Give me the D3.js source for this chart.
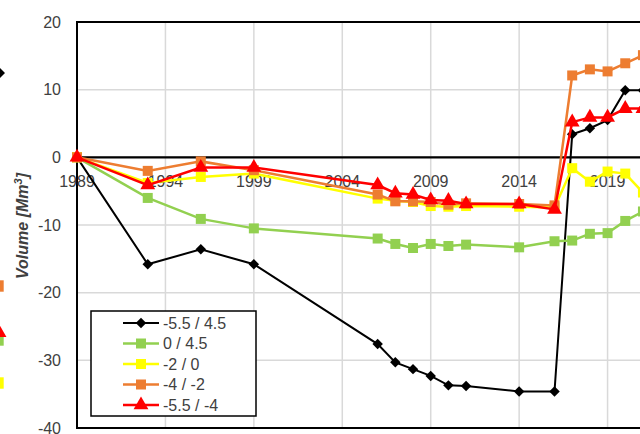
<!DOCTYPE html>
<html><head><meta charset="utf-8">
<script src="https://cdn.jsdelivr.net/npm/d3@7"></script>
<style>body{margin:0;background:#fff}svg{display:block}</style>
</head><body>
<script>
const years = [1989, 1993, 1996, 1999, 2006, 2007, 2008, 2009, 2010, 2011, 2014, 2016, 2017, 2018, 2019, 2020, 2021];
const seriesNames = ["-5.5 / 4.5", "0 / 4.5", "-2 / 0", "-4 / -2", "-5.5 / -4"];
const s1 = [0, -15.8, -13.6, -15.8, -27.6, -30.3, -31.3, -32.3, -33.7, -33.8, -34.6, -34.6, 3.4, 4.3, 5.5, 9.9, 9.9];
const s2 = [0, -6.0, -9.1, -10.5, -12.0, -12.8, -13.4, -12.8, -13.1, -12.9, -13.3, -12.4, -12.3, -11.3, -11.2, -9.4, -8.0];
const s3 = [0, -3.8, -2.9, -2.4, -6.1, -6.4, -6.6, -7.2, -7.3, -7.2, -7.3, -7.4, -1.6, -3.6, -2.1, -2.4, -5.2];
const s4 = [0, -2.0, -0.6, -1.9, -5.5, -6.5, -6.5, -6.6, -7.0, -6.8, -6.9, -7.1, 12.1, 13.0, 12.7, 13.9, 15.1];
const s5 = [0, -4.1, -1.5, -1.5, -4.1, -5.3, -5.5, -6.3, -6.4, -6.9, -6.9, -7.7, 5.2, 5.9, 5.9, 7.2, 7.2];
const yTicks = [20, 10, 0, -10, -20, -30, -40];
const xTicks = [1989, 1994, 1999, 2004, 2009, 2014, 2019];
const xGrid = [1994, 1999, 2004, 2009, 2014, 2019, 2024];
const yLabel = "Volume [Mm";

const colors = ["#000000", "#92d050", "#ffff00", "#ed7d31", "#ff0000"];
const symbols = [d3.symbolDiamond2, d3.symbolSquare, d3.symbolSquare, d3.symbolSquare, d3.symbolTriangle];
const symSizes = [70, 100, 100, 100, 95];
const lineW = [2, 2.5, 2.5, 2.5, 2.5];
const data = [s1, s2, s3, s4, s5];

const W = 640, H = 434;
const svg = d3.select("body").append("svg").attr("width", W).attr("height", H);
const font = "'Liberation Sans', Arial, sans-serif";

const x = d3.scaleLinear().domain([1989, 2024]).range([77, 696]);
const y = d3.scaleLinear().domain([-40, 20]).range([428, 22]);

// gridlines
svg.append("g").selectAll("line").data(xGrid).join("line")
  .attr("x1", d => x(d)).attr("x2", d => x(d)).attr("y1", y(20)).attr("y2", y(-40))
  .attr("stroke", "#d9d9d9").attr("stroke-width", 1.5);
svg.append("g").selectAll("line").data(yTicks).join("line")
  .attr("x1", x(1989)).attr("x2", x(2024)).attr("y1", d => y(d)).attr("y2", d => y(d))
  .attr("stroke", "#d9d9d9").attr("stroke-width", 1.5);

// border
svg.append("rect").attr("x", x(1989)).attr("y", y(20)).attr("width", x(2024) - x(1989)).attr("height", y(-40) - y(20))
  .attr("fill", "none").attr("stroke", "#000").attr("stroke-width", 2);
// zero line
svg.append("line").attr("x1", x(1989)).attr("x2", x(2024)).attr("y1", y(0)).attr("y2", y(0))
  .attr("stroke", "#000").attr("stroke-width", 2.2);

// y tick labels
svg.append("g").selectAll("text").data(yTicks).join("text")
  .attr("x", 61).attr("y", d => y(d) + 5.5).attr("text-anchor", "end")
  .attr("font-family", font).attr("font-size", 16).attr("fill", "#404040").text(d => d);
// x tick labels
svg.append("g").selectAll("text").data(xTicks).join("text")
  .attr("x", d => x(d)).attr("y", 187).attr("text-anchor", "middle")
  .attr("font-family", font).attr("font-size", 16).attr("fill", "#404040").text(d => d);

// y axis title
const yt = svg.append("text").attr("transform", "translate(28,226) rotate(-90)")
  .attr("text-anchor", "middle").attr("font-family", font).attr("font-size", 16)
  .attr("font-style", "italic").attr("font-weight", "bold").attr("fill", "#404040");
yt.append("tspan").text(yLabel);
yt.append("tspan").attr("dy", -6).attr("font-size", 11).text("3");
yt.append("tspan").attr("dy", 6).text("]");

// series
const line = d3.line().x((d, i) => x(years[i])).y(d => y(d));
data.forEach((s, k) => {
  const g = svg.append("g");
  g.append("path").datum(s).attr("d", line).attr("fill", "none")
    .attr("stroke", colors[k]).attr("stroke-width", lineW[k]);
  g.selectAll("path.m").data(s).join("path").attr("class", "m")
    .attr("transform", (d, i) => `translate(${x(years[i])},${y(d)})`)
    .attr("d", d3.symbol().type(symbols[k]).size(symSizes[k])).attr("fill", colors[k]);
});

// legend
const lg = svg.append("g");
lg.append("rect").attr("x", 91).attr("y", 311).attr("width", 165).attr("height", 105)
  .attr("fill", "#fff").attr("stroke", "#000").attr("stroke-width", 1.5);
seriesNames.forEach((n, k) => {
  const yy = 323 + k * 20.5;
  lg.append("line").attr("x1", 123).attr("x2", 159).attr("y1", yy).attr("y2", yy)
    .attr("stroke", colors[k]).attr("stroke-width", lineW[k]);
  lg.append("path").attr("transform", `translate(141,${yy})`)
    .attr("d", d3.symbol().type(symbols[k]).size(symSizes[k])).attr("fill", colors[k]);
  lg.append("text").attr("x", 163).attr("y", yy + 5.5).attr("font-family", font)
    .attr("font-size", 16).attr("fill", "#404040").text(n);
});

// partially visible markers of a legend cut off at the left edge
const edge = [{k: 0, y: 73}, {k: 3, y: 286}, {k: 1, y: 340}, {k: 4, y: 332}, {k: 2, y: 383}];
svg.append("g").selectAll("path").data(edge).join("path")
  .attr("transform", d => `translate(${d.k === 0 ? -1 : -2},${d.y})`)
  .attr("d", d => d3.symbol().type(symbols[d.k]).size(symSizes[d.k] * 1.3)())
  .attr("fill", d => colors[d.k]);
</script>
</body></html>
